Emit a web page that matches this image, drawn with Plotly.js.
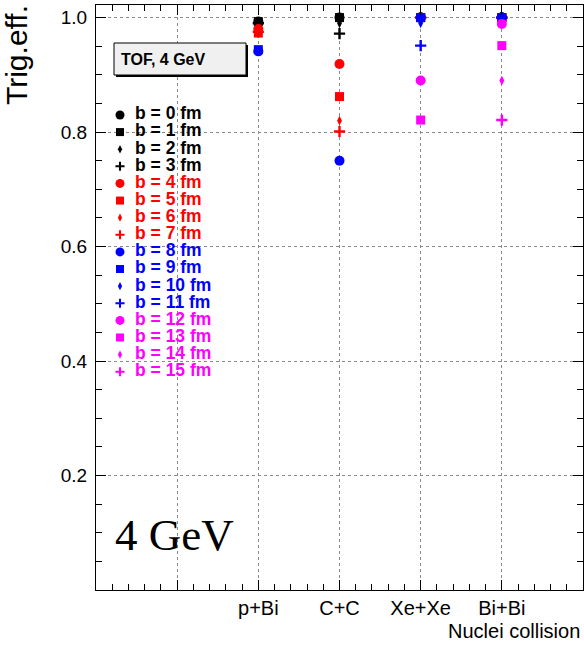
<!DOCTYPE html>
<html>
<head>
<meta charset="utf-8">
<script src="https://cdn.plot.ly/plotly-3.0.1.min.js"></script>
<style>html,body{margin:0;padding:0;background:#fff;}#chart{width:584px;height:647px;}</style>
</head>
<body>
<div id="chart"></div>
<script>
// ---- data ----
const collisions = ['p+Bi', 'C+C', 'Xe+Xe', 'Bi+Bi'];
const collisionPos = [0, 1, 2, 3];
const impactParams = [0, 1, 2, 3, 4, 5, 6, 7, 8, 9, 10, 11, 12, 13, 14, 15];
const effPBi  = [0.993, 0.993, 0.992, 0.990, 0.980, 0.973, 0.975, 0.975, 0.941, 0.944, null, null, null, null, null, null];
const effCC   = [1.000, 1.000, 0.990, 0.972, 0.919, 0.862, 0.820, 0.801, 0.750, null, null, null, null, null, null, null];
const effXeXe = [1.000, 1.000, 1.000, 1.000, 1.000, 1.000, 1.000, 1.000, 1.000, 1.000, 0.990, 0.951, 0.890, 0.821, null, null];
const effBiBi = [1.000, 1.000, 1.000, 1.000, 1.000, 1.000, 1.000, 1.000, 1.000, 1.000, 1.000, 1.000, 0.989, 0.951, 0.890, 0.821];
const yTicks = [0.2, 0.4, 0.6, 0.8, 1.0];
const xGridTicks = [-1];

// ---- styles ----
const groupColors = ['#000000', '#ff0000', '#0000ff', '#ff00ff'];
const symbols = ['circle', 'square', 'diamond-tall', 'cross-thin'];
const sizes = [10, 9, 7, 8];
const legendSizes = [9, 8, 6, 6.5];
const colorOf = i => groupColors[Math.floor(i / 4)];
const symbolOf = i => symbols[i % 4];

const traces = impactParams.map((b, i) => {
  const color = colorOf(i);
  const sym = symbolOf(i);
  return {
    type: 'scatter', mode: 'markers',
    x: collisionPos,
    y: [effPBi[i], effCC[i], effXeXe[i], effBiBi[i]],
    name: 'b = ' + b + ' fm',
    showlegend: false,
    marker: {
      symbol: sym, size: sizes[i % 4], color: color, opacity: 1,
      line: {color: color, width: sym === 'cross-thin' ? 2.4 : 0}
    }
  };
});

// ---- hand-made legend (ROOT TLegend look) on a hidden overlay axis ----
const legendMarkerX = 120, legendTextX = 135;
traces.push({
  type: 'scatter', mode: 'markers', xaxis: 'x2', yaxis: 'y2', showlegend: false, cliponaxis: false,
  x: impactParams.map(() => legendMarkerX),
  y: impactParams,
  marker: {
    opacity: 1,
    symbol: impactParams.map((b, i) => symbolOf(i)),
    size: impactParams.map((b, i) => legendSizes[i % 4]),
    color: impactParams.map((b, i) => colorOf(i)),
    line: {color: impactParams.map((b, i) => colorOf(i)), width: impactParams.map((b, i) => symbolOf(i) === 'cross-thin' ? 2 : 0)}
  }
});
traces.push({
  type: 'scatter', mode: 'text', xaxis: 'x2', yaxis: 'y2', showlegend: false, cliponaxis: false,
  x: impactParams.map(() => legendTextX),
  y: impactParams,
  text: impactParams.map(b => '<b>b = ' + b + ' fm</b>'),
  textposition: 'middle right',
  textfont: {family: 'Liberation Sans, Arial, sans-serif', size: 17.5, color: impactParams.map((b, i) => colorOf(i))}
});

const L = 96, R = 1, T = 5, B = 57, W = 584, H = 647;
const pw = W - L - R, ph = H - T - B;
const px = v => (v - L) / pw;
const py = v => (H - B - v) / ph;

const axisCommon = {
  showline: true, linecolor: '#000', linewidth: 1, mirror: 'allticks',
  ticks: 'inside', ticklen: 10, tickcolor: '#000', tickwidth: 1,
  showgrid: true, gridcolor: '#8a8a8a', griddash: 'dot', gridwidth: 1,
  zeroline: false,
  tickfont: {family: 'Liberation Sans, Arial, sans-serif', size: 19, color: '#000'}
};

const layout = {
  width: W, height: H,
  margin: {l: L, r: R, t: T, b: B},
  paper_bgcolor: '#fff', plot_bgcolor: 'rgba(0,0,0,0)',
  showlegend: false,
  xaxis: Object.assign({}, axisCommon, {
    range: [-2, 4],
    tickmode: 'array',
    tickvals: xGridTicks.concat(collisionPos),
    ticktext: [''].concat(collisions),
    tickfont: {family: 'Liberation Sans, Arial, sans-serif', size: 20, color: '#000'},
    minor: {dtick: 0.2, tick0: 0, ticks: 'inside', ticklen: 6, tickcolor: '#000', showgrid: false}
  }),
  yaxis: Object.assign({}, axisCommon, {
    range: [0, 1.022],
    tickmode: 'array',
    tickvals: yTicks,
    ticktext: yTicks.map(v => v.toFixed(1)),
    ticklabelstandoff: 4,
    minor: {dtick: 0.05, tick0: 0, ticks: 'inside', ticklen: 6, tickcolor: '#000', showgrid: false}
  }),
  xaxis2: {domain: [px(100), px(260)], range: [100, 260], anchor: 'y2', visible: false, fixedrange: true},
  yaxis2: {domain: [py(380.3), py(106.4)], range: [15.5, -0.5], anchor: 'x2', visible: false, fixedrange: true},
  shapes: [
    {type: 'rect', xref: 'paper', yref: 'paper', x0: px(116), x1: px(248), y0: py(77), y1: py(45),
     fillcolor: '#000', line: {width: 0}, layer: 'above'},
    {type: 'rect', xref: 'paper', yref: 'paper', x0: px(114), x1: px(246), y0: py(75), y1: py(43),
     fillcolor: '#f0f0f0', line: {color: '#000', width: 1}, layer: 'above'}
  ],
  annotations: [
    {text: '<b>TOF, 4 GeV</b>', xref: 'paper', yref: 'paper', x: px(119), y: py(59),
     xanchor: 'left', yanchor: 'middle', showarrow: false,
     font: {family: 'Liberation Sans, Arial, sans-serif', size: 16, color: '#000'}},
    {text: '4 GeV', xref: 'paper', yref: 'paper', x: px(113), y: py(535),
     xanchor: 'left', yanchor: 'middle', showarrow: false,
     font: {family: 'Liberation Serif, Times New Roman, serif', size: 45, color: '#000'}},
    {text: 'Trig.eff.', xref: 'paper', yref: 'paper', x: px(16), y: py(3),
     xanchor: 'center', yanchor: 'top', textangle: -90, showarrow: false,
     font: {family: 'Liberation Sans, Arial, sans-serif', size: 30, color: '#000'}},
    {text: 'Nuclei collision', xref: 'paper', yref: 'paper', x: px(582), y: py(631),
     xanchor: 'right', yanchor: 'middle', showarrow: false,
     font: {family: 'Liberation Sans, Arial, sans-serif', size: 20, color: '#000'}}
  ]
};

Plotly.newPlot('chart', traces, layout, {displayModeBar: false, staticPlot: true});
</script>
</body>
</html>
